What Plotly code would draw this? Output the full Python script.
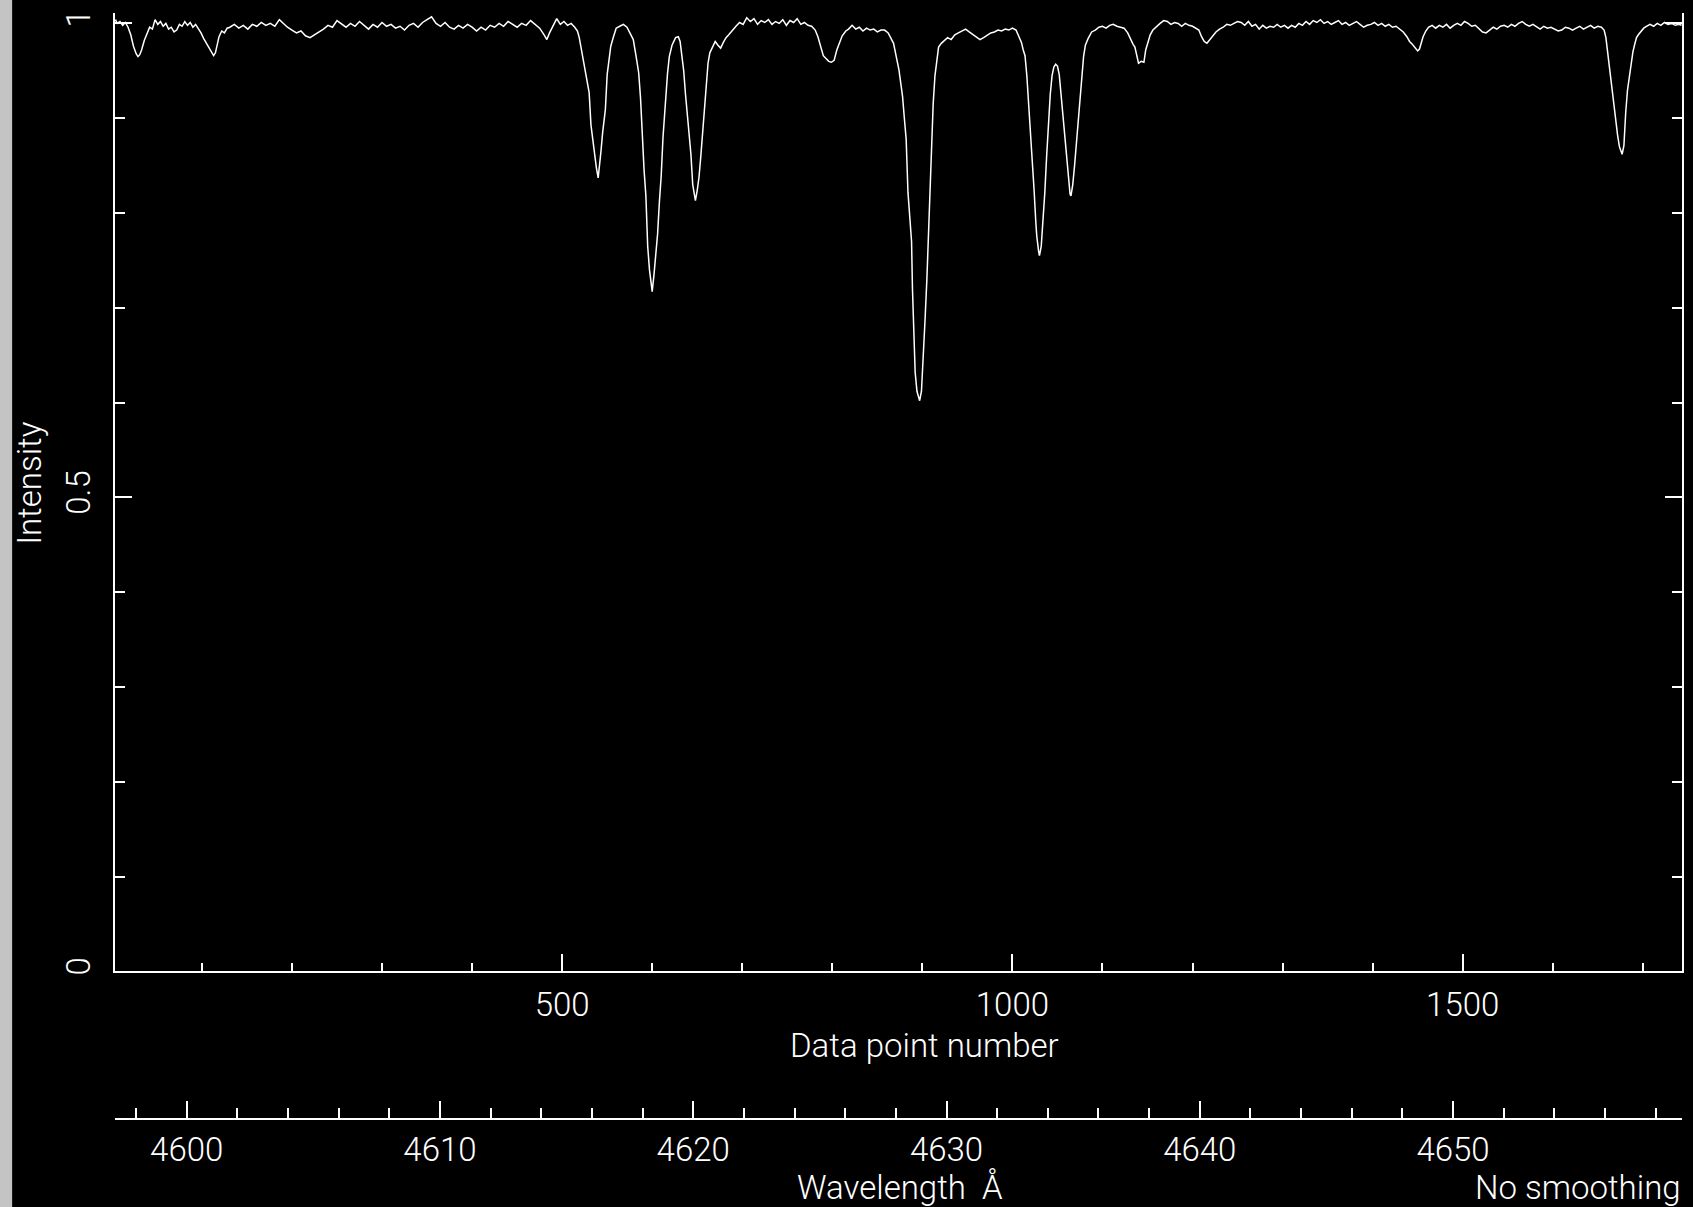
import plotly.graph_objects as go

# ---------------- data ----------------
pixel = [
    4, 6, 9, 12, 15, 18, 21, 24, 27, 29, 31, 33, 36, 39, 42, 45, 48, 51, 54, 57,
    60, 63, 66, 69, 72, 75, 78, 81, 84, 87, 90, 93, 96, 99, 102, 105, 108, 111, 113, 115,
    117, 119, 122, 125, 128, 131, 136, 141, 146, 151, 156, 161, 166, 171, 176, 181, 186, 190, 195, 200,
    205, 210, 215, 220, 225, 230, 235, 240, 245, 250, 255, 260, 265, 270, 275, 280, 285, 290, 295, 300,
    305, 310, 315, 320, 325, 330, 335, 340, 345, 350, 355, 360, 365, 370, 375, 380, 385, 390, 395, 400,
    405, 410, 415, 420, 425, 430, 435, 440, 445, 450, 455, 460, 465, 470, 475, 480, 483, 486, 490, 494,
    498, 502, 506, 510, 514, 517, 519, 522, 524, 526, 528, 530, 532, 534, 536, 538, 540, 542, 543, 545,
    547, 548, 550, 552, 554, 557, 560, 564, 568, 572, 575, 577, 579, 582, 585, 587, 589, 591, 593, 595,
    597, 599, 600, 602, 604, 606, 608, 610, 612, 614, 615, 617, 619, 622, 626, 629, 631, 633, 635, 637,
    639, 641, 643, 645, 647, 648, 650, 652, 654, 656, 658, 660, 662, 664, 667, 670, 673, 676, 679, 682,
    685, 689, 693, 697, 701, 705, 709, 713, 717, 721, 725, 729, 733, 737, 741, 745, 749, 753, 757, 761,
    765, 769, 773, 777, 781, 784, 787, 790, 793, 796, 799, 802, 805, 808, 811, 815, 818, 822, 826, 830,
    834, 838, 842, 846, 850, 854, 858, 862, 865, 868, 871, 874, 876, 878, 880, 882, 884, 886, 888, 889,
    890, 891, 892, 894, 896, 897, 899, 900, 902, 903, 905, 906, 908, 910, 912, 914, 916, 918, 921, 924,
    928, 932, 936, 940, 944, 948, 952, 956, 960, 964, 968, 972, 976, 980, 984, 988, 992, 996, 1000, 1004,
    1007, 1010, 1012, 1014, 1016, 1018, 1020, 1021, 1023, 1024, 1026, 1027, 1029, 1030, 1032, 1033, 1035, 1036, 1038, 1040,
    1042, 1044, 1046, 1048, 1050, 1052, 1054, 1056, 1058, 1060, 1062, 1064, 1065, 1067, 1069, 1071, 1073, 1075, 1077, 1079,
    1081, 1084, 1088, 1092, 1096, 1100, 1104, 1108, 1112, 1116, 1120, 1124, 1128, 1131, 1134, 1136, 1138, 1140, 1143, 1146,
    1148, 1150, 1153, 1156, 1160, 1164, 1168, 1172, 1176, 1180, 1184, 1188, 1192, 1196, 1200, 1204, 1207, 1210, 1213, 1216,
    1219, 1222, 1226, 1230, 1234, 1238, 1242, 1246, 1250, 1254, 1258, 1262, 1266, 1270, 1274, 1278, 1282, 1286, 1290, 1294,
    1298, 1302, 1306, 1310, 1314, 1318, 1322, 1326, 1330, 1334, 1338, 1342, 1346, 1350, 1354, 1358, 1362, 1366, 1370, 1374,
    1378, 1382, 1386, 1390, 1394, 1398, 1402, 1406, 1410, 1414, 1418, 1422, 1426, 1430, 1434, 1438, 1441, 1444, 1447, 1450,
    1452, 1454, 1456, 1459, 1462, 1466, 1470, 1474, 1478, 1482, 1486, 1490, 1494, 1498, 1502, 1506, 1510, 1514, 1518, 1522,
    1526, 1530, 1534, 1538, 1542, 1546, 1550, 1554, 1558, 1562, 1566, 1570, 1574, 1578, 1582, 1586, 1590, 1594, 1598, 1602,
    1606, 1610, 1614, 1618, 1622, 1626, 1630, 1634, 1638, 1642, 1646, 1650, 1654, 1657, 1659, 1661, 1663, 1664, 1666, 1668,
    1670, 1672, 1674, 1676, 1677, 1679, 1680, 1681, 1683, 1685, 1687, 1689, 1691, 1693, 1695, 1698, 1701, 1704, 1708, 1712,
    1716, 1720, 1724, 1728, 1732, 1736, 1740, 1743,
]

intensity = [
    1.004, 1.000, 1.002, 0.998, 1.001, 0.996, 0.988, 0.976, 0.968, 0.965, 0.967, 0.972, 0.982, 0.990, 0.996, 0.994, 1.004, 0.999, 1.002, 0.997,
    1.000, 0.994, 0.996, 0.991, 0.993, 0.999, 0.997, 1.002, 0.998, 1.001, 0.996, 0.999, 0.995, 0.990, 0.984, 0.979, 0.973, 0.968, 0.966, 0.969,
    0.977, 0.986, 0.992, 0.990, 0.995, 0.996, 0.999, 0.995, 0.998, 0.994, 0.999, 0.997, 1.001, 0.998, 1.000, 0.997, 1.004, 1.000, 0.996, 0.993,
    0.990, 0.992, 0.987, 0.985, 0.988, 0.991, 0.994, 0.998, 0.996, 1.003, 0.999, 0.996, 1.000, 0.997, 1.002, 0.998, 0.994, 0.999, 0.996, 1.001,
    0.997, 0.999, 0.995, 0.997, 0.993, 0.998, 1.000, 0.996, 1.001, 1.004, 1.007, 1.000, 0.997, 1.001, 0.996, 0.994, 0.998, 0.995, 0.999, 0.996,
    0.992, 0.996, 0.993, 0.998, 0.996, 1.000, 0.997, 1.002, 0.999, 0.996, 1.000, 0.998, 1.003, 0.999, 0.995, 0.988, 0.983, 0.990, 0.997, 1.005,
    0.999, 1.002, 0.998, 1.000, 0.996, 0.992, 0.985, 0.970, 0.958, 0.951, 0.940, 0.927, 0.893, 0.876, 0.864, 0.848, 0.837, 0.852, 0.864, 0.885,
    0.900, 0.909, 0.946, 0.962, 0.976, 0.986, 0.995, 0.997, 0.999, 0.996, 0.990, 0.986, 0.983, 0.966, 0.948, 0.922, 0.880, 0.845, 0.818, 0.765,
    0.740, 0.722, 0.717, 0.735, 0.753, 0.778, 0.812, 0.839, 0.880, 0.908, 0.923, 0.947, 0.965, 0.977, 0.985, 0.986, 0.981, 0.965, 0.950, 0.925,
    0.905, 0.880, 0.862, 0.830, 0.817, 0.813, 0.824, 0.838, 0.860, 0.885, 0.905, 0.937, 0.958, 0.969, 0.976, 0.981, 0.977, 0.974, 0.980, 0.985,
    0.988, 0.993, 0.997, 1.001, 0.999, 1.006, 1.002, 1.005, 0.999, 1.003, 1.001, 1.004, 0.999, 1.002, 1.000, 1.004, 0.998, 1.003, 1.001, 1.005,
    0.999, 1.001, 0.998, 0.997, 0.993, 0.986, 0.975, 0.966, 0.963, 0.960, 0.959, 0.961, 0.972, 0.980, 0.987, 0.992, 0.994, 0.998, 0.994, 0.996,
    0.992, 0.995, 0.993, 0.994, 0.991, 0.993, 0.993, 0.990, 0.985, 0.979, 0.965, 0.951, 0.937, 0.923, 0.900, 0.878, 0.822, 0.796, 0.770, 0.720,
    0.690, 0.660, 0.632, 0.612, 0.605, 0.602, 0.612, 0.630, 0.660, 0.688, 0.730, 0.760, 0.818, 0.878, 0.915, 0.945, 0.962, 0.975, 0.979, 0.982,
    0.985, 0.983, 0.988, 0.990, 0.992, 0.994, 0.991, 0.988, 0.986, 0.983, 0.985, 0.988, 0.990, 0.991, 0.993, 0.992, 0.994, 0.993, 0.995, 0.993,
    0.987, 0.980, 0.972, 0.966, 0.945, 0.916, 0.890, 0.867, 0.845, 0.825, 0.790, 0.776, 0.760, 0.755, 0.765, 0.779, 0.805, 0.822, 0.860, 0.895,
    0.925, 0.945, 0.954, 0.957, 0.955, 0.946, 0.925, 0.905, 0.880, 0.855, 0.835, 0.820, 0.818, 0.830, 0.850, 0.875, 0.895, 0.918, 0.945, 0.965,
    0.977, 0.984, 0.991, 0.993, 0.996, 0.997, 0.995, 0.998, 0.999, 0.997, 0.996, 0.995, 0.990, 0.983, 0.978, 0.975, 0.966, 0.958, 0.960, 0.959,
    0.972, 0.979, 0.988, 0.993, 0.997, 1.000, 1.003, 1.002, 0.999, 1.001, 1.000, 0.997, 1.000, 0.998, 0.997, 0.995, 0.993, 0.986, 0.981, 0.979,
    0.983, 0.986, 0.991, 0.994, 0.996, 0.999, 0.998, 1.000, 1.002, 1.001, 0.998, 1.002, 0.997, 0.999, 0.994, 0.998, 0.995, 0.997, 0.996, 0.999,
    0.996, 0.998, 0.995, 0.998, 0.996, 1.000, 0.998, 1.002, 0.999, 1.003, 1.001, 1.004, 1.000, 1.002, 0.999, 1.001, 1.003, 0.999, 1.001, 0.998,
    1.000, 1.002, 0.999, 0.996, 0.998, 0.999, 1.001, 0.998, 1.000, 0.997, 0.999, 0.996, 0.997, 0.994, 0.991, 0.986, 0.981, 0.978, 0.974, 0.971,
    0.973, 0.981, 0.986, 0.992, 0.996, 0.998, 0.995, 0.998, 0.996, 0.999, 0.995, 0.998, 1.000, 0.998, 1.002, 1.000, 0.997, 0.998, 0.994, 0.991,
    0.990, 0.993, 0.996, 0.994, 0.997, 0.998, 0.996, 0.999, 0.997, 1.000, 1.002, 0.999, 0.997, 0.999, 0.996, 0.994, 0.997, 0.995, 0.996, 0.994,
    0.992, 0.993, 0.996, 0.995, 0.993, 0.995, 0.997, 0.994, 0.996, 0.998, 0.995, 0.997, 0.996, 0.993, 0.985, 0.969, 0.955, 0.944, 0.930, 0.915,
    0.895, 0.882, 0.870, 0.863, 0.862, 0.871, 0.890, 0.906, 0.930, 0.945, 0.958, 0.970, 0.978, 0.985, 0.988, 0.992, 0.995, 0.997, 0.999, 0.997,
    1.000, 0.998, 1.001, 0.999, 1.000, 0.998, 0.999, 0.998,
]

pixel_range = [3.5, 1743.5]
wavelength_range = [4597.17, 4659.04]
intensity_range = [0.0, 1.011]

# ---------------- layout geometry ----------------
W, H = 1693, 1207
L, R, T, B = 115, 9, 10, 88
PW = W - L - R
PH = H - T - B
main_bottom = 971  # pixel row of the data-point axis


def px(x):
    return (x - L) / PW


def py(y):
    return (H - B - y) / PH


FONT = "Roboto"
fnt = dict(family=FONT, size=33, color="white", weight=300)

fig = go.Figure()
fig.add_trace(go.Scatter(
    x=pixel, y=intensity, mode="lines",
    line=dict(color="white", width=1.5),
    xaxis="x", yaxis="y", showlegend=False, hoverinfo="skip",
))
# carrier trace for the wavelength axis (invisible)
fig.add_trace(go.Scatter(
    x=wavelength_range, y=[0.5, 0.5], mode="lines", opacity=0,
    line=dict(color="black", width=1),
    xaxis="x2", yaxis="y", showlegend=False, hoverinfo="skip",
))

axis_common = dict(
    showgrid=False, zeroline=False, showline=True, linecolor="white",
    linewidth=2, ticks="inside", tickcolor="white", tickwidth=1.7,
    tickfont=fnt,
)

fig.update_layout(
    width=W, height=H,
    margin=dict(l=L, r=R, t=T, b=B),
    paper_bgcolor="black", plot_bgcolor="black",
    xaxis=dict(
        **axis_common, range=pixel_range, anchor="y",
        tick0=0, dtick=500, ticklen=17, mirror=False,
        minor=dict(dtick=100, tick0=0, ticklen=8, ticks="inside",
                   tickcolor="white", tickwidth=1.7, showgrid=False),
        ticklabelstandoff=3,
    ),
    xaxis2=dict(
        **axis_common, range=wavelength_range, anchor="free", position=0,
        overlaying="x", side="bottom",
        tick0=4600, dtick=10, ticklen=17,
        minor=dict(dtick=2, tick0=4600, ticklen=10, ticks="inside",
                   tickcolor="white", tickwidth=1.7, showgrid=False),
        ticklabelstandoff=1,
    ),
    yaxis=dict(
        **axis_common, range=intensity_range,
        domain=[py(main_bottom), 1],
        tick0=0, dtick=0.5, ticklen=17, mirror="ticks", tickangle=-90,
        minor=dict(dtick=0.1, tick0=0, ticklen=10, ticks="inside",
                   tickcolor="white", tickwidth=1.7, showgrid=False),
        ticklabelstandoff=10,
    ),
    shapes=[dict(
        type="rect", xref="paper", yref="paper",
        x0=px(-5), x1=px(12), y0=py(H + 5), y1=py(-5),
        fillcolor="#c4c4c4", line=dict(width=0), layer="below",
    )],
    annotations=[
        dict(text="Intensity", x=px(30), y=py(481), xref="paper", yref="paper",
             textangle=-90, showarrow=False, font=fnt, borderpad=0,
             xanchor="center", yanchor="middle"),
        dict(text="Data point number", x=px(926), y=py(1045), xref="paper", yref="paper",
             showarrow=False, font=fnt, borderpad=0, xanchor="center", yanchor="middle"),
        dict(text="Wavelength\u00a0\u00a0Å", x=px(901), y=py(1188), xref="paper", yref="paper",
             showarrow=False, font=fnt, borderpad=0, xanchor="center", yanchor="middle"),
        dict(text="No smoothing", x=px(1684), y=py(1188), xref="paper", yref="paper",
             showarrow=False, font=fnt, borderpad=0, xanchor="right", yanchor="middle"),
    ],
)

fig.write_html("out.html")
